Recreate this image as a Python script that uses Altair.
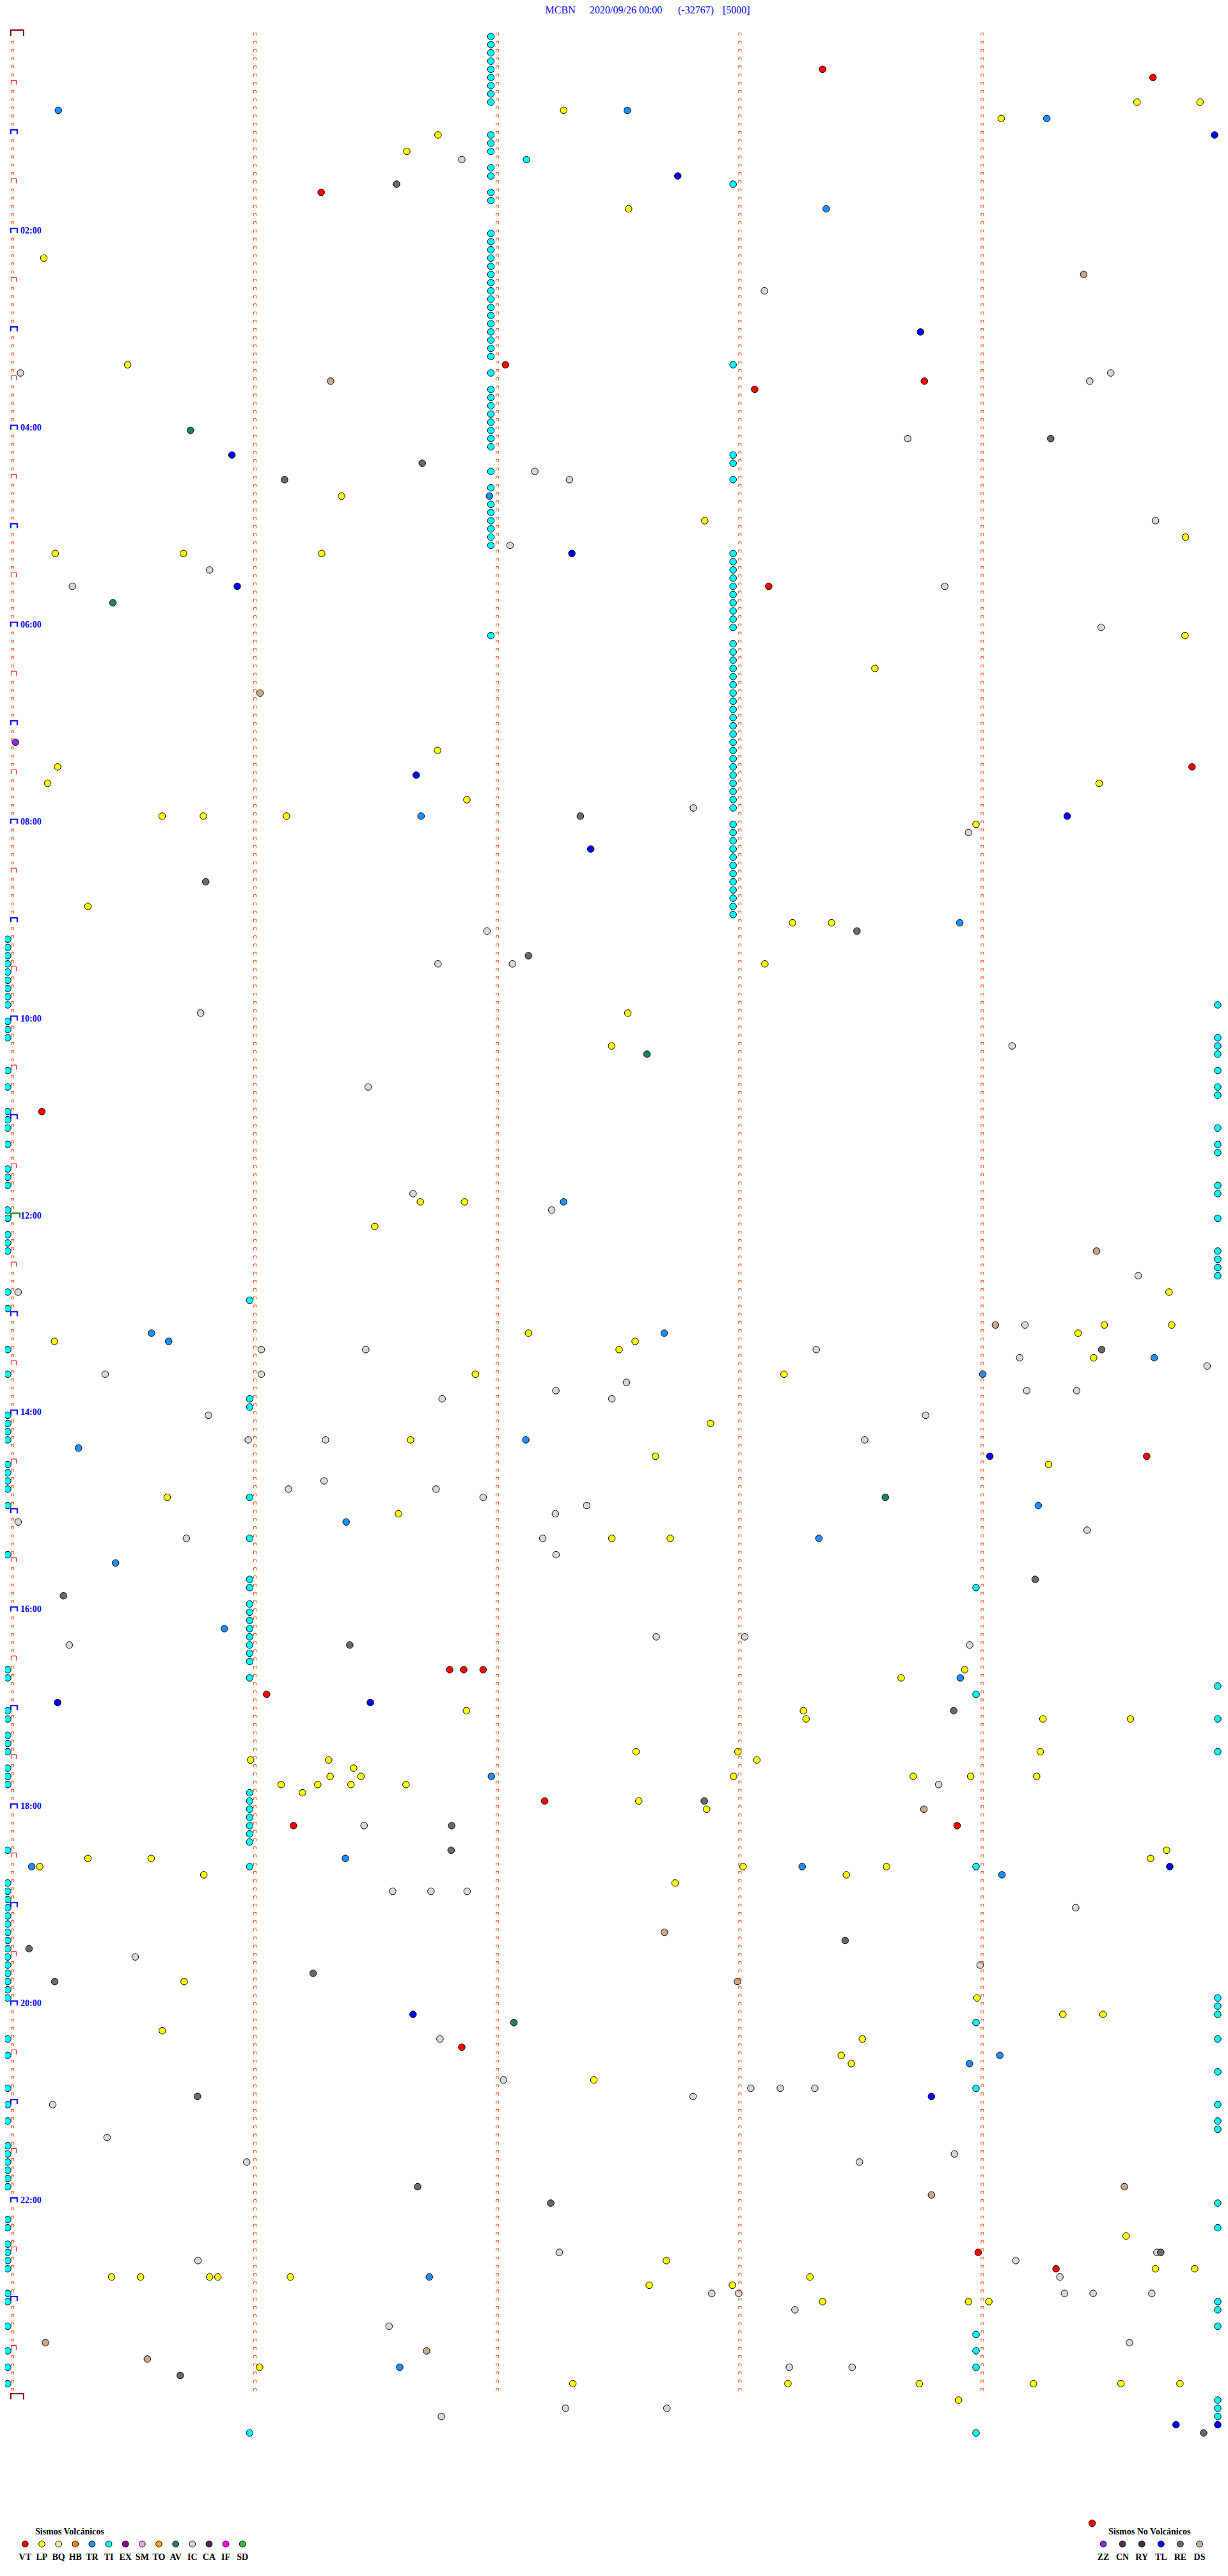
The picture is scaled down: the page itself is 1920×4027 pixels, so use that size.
import altair as alt
import pandas as pd

# ---------------- event data: row = 5-minute line index from 00:00, min = minute within line
VT_row = [4, 5, 19, 40, 42, 43, 67, 89, 131, 173, 199, 199, 199, 202, 215, 218, 218, 245, 270, 272, 303]
VT_min = [3.341, 4.704, 1.273, 2.033, 3.761, 3.061, 3.119, 4.865, 0.121, 4.678, 1.803, 1.861, 1.941, 1.048, 2.195, 1.159, 3.896, 1.853, 3.983, 4.304, 4.453]

LP_row = [8, 8, 9, 10, 12, 14, 21, 27, 40, 56, 59, 61, 63, 63, 63, 73, 77, 87, 89, 91, 91, 93, 95, 95, 95, 96,
          106, 108, 108, 113, 119, 123, 142, 142, 145, 153, 157, 157, 158, 158, 159, 159, 160, 161, 163, 163, 169, 171,
          173, 174, 178, 180, 183, 183, 199, 200,
          204, 204, 205, 205, 205, 209, 209, 209, 210, 210, 210, 211, 212, 212, 212, 212, 212, 212, 213, 213, 213, 213,
          214, 215, 216, 221, 222, 222, 222, 223, 223, 223, 224, 224, 225, 237, 239, 241, 241, 243, 244, 246, 247, 249,
          268, 271, 272, 272, 273, 273, 273, 273, 273, 273, 274, 274, 276, 276, 276, 284, 286, 286, 286, 286, 286, 286, 288]
LP_min = [4.638, 4.898, 2.273, 4.078, 1.755, 1.626, 2.541, 0.129, 0.475, 1.357, 2.855, 4.838, 0.176, 0.705, 1.275, 4.836, 3.557, 1.753, 0.186, 0.145, 4.482, 1.874, 0.617, 0.787, 1.130, 3.974,
          0.311, 3.217, 3.378, 3.103, 2.538, 2.471, 1.682, 1.864, 1.494, 4.770, 4.503, 4.781, 4.395, 2.128, 2.568, 0.173, 2.502, 4.459, 3.182, 1.909, 2.879, 1.642,
          2.652, 4.273, 0.638, 1.592, 2.713, 2.472, 3.927, 3.665,
          1.872, 3.262, 3.273, 4.250, 4.611, 2.572, 2.992, 4.239, 0.982, 1.304, 3.070, 1.407, 1.310, 1.437, 2.974, 3.715, 3.952, 4.224, 1.108, 1.259, 1.396, 1.623,
          1.196, 2.583, 2.863, 4.760, 0.311, 0.572, 4.694, 0.112, 3.013, 3.605, 0.789, 3.439, 2.733, 0.708, 3.978, 4.332, 4.498, 0.618, 3.505, 3.418, 3.460, 2.398,
          4.593, 2.697, 4.714, 4.876, 0.409, 0.528, 0.813, 0.847, 1.146, 3.289, 2.626, 2.969, 3.341, 3.943, 4.027, 1.019, 2.311, 3.198, 3.740, 4.211, 4.572, 4.815, 3.902]

IC_row = [15, 31, 41, 41, 42, 49, 53, 54, 59, 62, 65, 67, 67, 72, 94, 97,
          109, 113, 113, 119, 123, 128, 141, 143, 151, 153, 157, 160, 160, 160, 161, 162, 163, 163, 164, 165, 165, 165, 166, 166,
          168, 168, 171, 171, 171, 176, 177, 177, 178, 179, 180, 181, 182, 183, 183, 185, 195, 195, 196, 196,
          213, 218, 226, 226, 226, 228, 234, 235, 244, 249, 250, 250, 250, 251, 252, 256, 258, 259, 259, 270, 270, 271, 271,
          273, 275, 275, 275, 275, 275, 277, 279, 281, 284, 284, 289, 289, 290]
IC_min = [1.853, 3.101, 0.033, 4.530, 4.443, 3.692, 2.154, 2.297, 4.714, 2.052, 0.813, 0.247, 3.845, 4.490, 2.808, 3.943,
          1.957, 1.755, 2.062, 0.776, 4.123, 1.467, 1.652, 2.224, 4.643, 0.023, 4.176, 1.026, 1.457, 3.315, 4.154, 4.927, 0.382, 1.026, 2.532, 2.241, 4.183, 4.389, 2.472, 1.772,
          0.808, 3.766, 0.972, 1.291, 3.515, 1.285, 1.138, 1.747, 1.941, 2.368, 2.239, 0.023, 4.432, 0.717, 2.187, 2.242, 2.655, 3.020, 0.234, 3.948,
          3.820, 1.450, 1.568, 1.726, 1.875, 4.385, 0.506, 3.991, 1.763, 2.025, 3.045, 3.167, 3.309, 2.807, 0.166, 0.390, 3.885, 0.966, 3.493, 2.255, 4.720, 0.765, 4.138,
          4.320, 2.884, 2.995, 4.339, 4.457, 4.699, 3.227, 1.553, 4.607, 3.204, 3.463, 2.281, 2.699, 1.769]

RE_row = [18, 49, 52, 54, 95, 103, 109, 112, 160, 188, 190, 196, 204, 215, 218, 221, 232, 233, 236, 237, 251, 262, 264, 270, 285, 292]
RE_min = [1.584, 4.282, 1.690, 1.122, 2.342, 0.797, 3.483, 2.128, 4.492, 4.218, 0.210, 1.391, 3.882, 2.853, 1.811, 1.809, 3.434, 0.068, 1.240, 0.174, 0.763, 1.671, 2.220, 4.736, 0.692, 4.913]

TR_row = [9, 9, 10, 21, 56, 95, 108, 142, 158, 158, 159, 161, 163, 171, 172, 179, 181, 183, 186, 194, 200,
          212, 222, 223, 223, 224, 246, 247, 273, 284]
TR_min = [0.189, 2.536, 4.266, 3.356, 1.967, 1.685, 3.907, 2.273, 0.573, 2.688, 0.644, 4.709, 4.002, 2.117, 0.272, 4.231, 1.376, 3.326, 0.425, 0.874, 3.909,
          1.975, 1.373, 0.079, 3.257, 4.081, 4.072, 3.947, 1.719, 1.597]

TL_row = [12, 17, 36, 51, 63, 67, 90, 95, 99, 173, 203, 203, 223, 241, 251, 291, 291]
TL_min = [4.958, 2.744, 3.745, 0.905, 2.307, 0.927, 1.665, 4.350, 2.385, 4.031, 0.186, 1.476, 4.773, 1.652, 3.790, 4.799, 4.971]

AV_row = [48, 69, 124, 178, 242]
AV_min = [0.734, 0.414, 2.617, 3.600, 2.068]

DS_row = [29, 42, 80, 148, 157, 216, 231, 237, 262, 263, 281, 282, 283]
DS_min = [4.418, 1.312, 1.021, 4.471, 4.054, 3.759, 2.689, 2.990, 4.586, 3.790, 0.136, 1.708, 0.556]

ZZ_row = [86]
ZZ_min = [0.012]

# tremor (TI) events come in columns: minute within line -> rows
TI_A_min = 1.973
TI_A_rows = [0, 1, 2, 3, 4, 5, 6, 7, 8, 12, 13, 14, 16, 17, 19, 20, 24, 25, 26, 27, 28, 29, 30, 31, 32, 33, 34, 35,
             36, 37, 38, 39, 41, 43, 44, 45, 46, 47, 48, 49, 50, 53, 55, 57, 58, 59, 60, 61, 62, 73]
TI_X_min = 2.120
TI_X_rows = [15]
TI_B_min = 2.972
TI_B_rows = [18, 40, 51, 52, 54, 63, 64, 65, 66, 67, 68, 69, 70, 71, 72, 74, 75, 76, 77, 78, 79, 80, 81, 82, 83, 84,
             85, 86, 87, 88, 89, 90, 91, 92, 93, 94, 96, 97, 98, 99, 100, 101, 102, 103, 104, 105, 106, 107]
TI_L_min = -0.020
TI_L_rows = [110, 111, 112, 113, 114, 115, 116, 117, 118, 120, 121, 122, 126, 128, 131, 132, 133, 135, 138, 139, 140,
             143, 144, 146, 147, 148, 153, 155, 160, 163, 168, 169, 170, 171, 174, 175, 176, 177, 179, 185, 199, 200,
             204, 205, 207, 208, 209, 211, 212, 213, 221, 225, 226, 227, 228, 229, 230, 231, 232, 233, 234, 235, 236,
             237, 238, 239, 244, 246, 250, 252, 254, 257, 258, 259, 260, 261, 262, 266, 267, 269, 270, 271, 272, 275,
             276, 279, 282, 284, 286]
TI_C_min = 0.978
TI_C_rows = [154, 166, 167, 178, 183, 188, 189, 191, 192, 193, 194, 195, 196, 197, 198, 200, 214, 215, 216, 217, 218,
             219, 220, 223, 292]
TI_D_min = 3.974
TI_D_rows = [189, 202, 223, 242, 250, 280, 282, 284, 292]
TI_R_min = 4.971
TI_R_rows = [118, 122, 123, 124, 126, 128, 129, 133, 135, 136, 140, 141, 144, 148, 149, 150, 151, 201, 205, 209, 239,
             240, 241, 244, 248, 252, 254, 255, 264, 267, 276, 277, 279, 288, 289, 290]

TYPES = ["VT", "LP", "BQ", "HB", "TR", "TI", "EX", "SM", "TO", "AV", "IC", "CA", "IF", "SD",
         "ZZ", "CN", "RY", "TL", "RE", "DS"]
COLORS = ["#FF0000", "#FFFF00", "#EEE8AA", "#FF8000", "#1E90FF", "#00FFFF", "#8B008B", "#EEAAEE", "#FFA500",
          "#1E8060", "#D8D8D8", "#4A2A4A", "#FF00FF", "#30C030",
          "#8A2BE2", "#4A3050", "#4A2A4A", "#0000FF", "#6A6A6A", "#C8AA88"]
VOLC = TYPES[:14]
NOVOLC = TYPES[14:]

HOUR_ROWS = [24, 48, 72, 96, 120, 144, 168, 192, 216, 240, 264]
HOUR_TEXT = ["02:00", "04:00", "06:00", "08:00", "10:00", "12:00", "14:00", "16:00", "18:00", "20:00", "22:00"]

TITLE_PARTS = ["MCBN", "2020/09/26 00:00", "(-32767)", "[5000]"]

# ---------------- build tables
ev = []
for t, rows, mins in [("VT", VT_row, VT_min), ("LP", LP_row, LP_min), ("IC", IC_row, IC_min),
                      ("RE", RE_row, RE_min), ("TR", TR_row, TR_min), ("TL", TL_row, TL_min),
                      ("AV", AV_row, AV_min), ("DS", DS_row, DS_min), ("ZZ", ZZ_row, ZZ_min)]:
    for r, m in zip(rows, mins):
        ev.append({"row": r, "min": m, "type": t})
for m, rows in [(TI_A_min, TI_A_rows), (TI_X_min, TI_X_rows), (TI_B_min, TI_B_rows), (TI_L_min, TI_L_rows),
                (TI_C_min, TI_C_rows), (TI_D_min, TI_D_rows), (TI_R_min, TI_R_rows)]:
    for r in rows:
        ev.append({"row": r, "min": m, "type": "TI"})
events = pd.DataFrame(ev)
# TI drawn first so the other events sit on top
events["order"] = (events["type"] != "TI").astype(int)

N_ROWS = 288
marks = []
for k in range(N_ROWS + 1):
    for c in range(5):
        if c > 0 and k == N_ROWS:
            continue
        if c == 0 and k in (0, N_ROWS):
            kind = "day"
        elif c == 0 and k == 144:
            kind = "noon"
        elif c == 0 and k % 12 == 0:
            kind = "hour"
        elif c == 0 and k % 12 == 6:
            kind = "half"
        else:
            kind = "tick"
        marks.append({"row": k, "min": c, "kind": kind})
marks = pd.DataFrame(marks)

W, H = 1904, 4011
xs = alt.Scale(domain=[-0.03055, 4.9922], range=[0, W], nice=False, zero=False)
ys = alt.Scale(domain=[-3.8192, 308.81], range=[0, H], nice=False, zero=False)
X = alt.X("min:Q", scale=xs, axis=None)
Y = alt.Y("row:Q", scale=ys, axis=None)


def glyph(kind, path, size, color, sw, dx, dy):
    return alt.Chart(marks).transform_filter(alt.datum.kind == kind).mark_point(
        shape=path, size=size, filled=False, color=color, strokeWidth=sw, opacity=1,
        xOffset=dx, yOffset=dy
    ).encode(x=X, y=Y)


tick = glyph("tick", "M-1,1L-1,-1L1,-1L1,1", 16, "#FF4500", 1, 0, -3.5)
half = glyph("half", "M-1,0.875L-1,-0.875L1,-0.875L1,0.875", 64, "#FF0000", 1, 1.8, -5)
hour = glyph("hour", "M-1,0.7L-1,-0.7L1,-0.7L1,0.7", 100, "#0000FF", 2, 2.3, -4.5)
noon = glyph("noon", "M-1,0.5L-1,-0.5L1,-0.5L1,0.5", 196, "#008000", 2, 4.5, -4.5)
day = glyph("day", "M-1,0.45L-1,-0.45L1,-0.45L1,0.45", 400, "#8B0000", 2, 7.3, -5.5)

circles = alt.Chart(events).mark_point(
    shape="circle", filled=True, size=110, stroke="black", strokeWidth=1, opacity=1
).encode(
    x=X, y=Y,
    fill=alt.Fill("type:N", scale=alt.Scale(domain=TYPES, range=COLORS), legend=None),
    order=alt.Order("order:Q"),
)

hours = alt.Chart(pd.DataFrame({"row": HOUR_ROWS, "label": HOUR_TEXT})).mark_text(
    font="Liberation Serif", fontWeight="bold", fontSize=14, color="#0000FF",
    align="left", baseline="alphabetic"
).encode(x=alt.value(24), y=Y, text="label:N")

title_df = pd.DataFrame({"text": TITLE_PARTS, "px": [844.6, 914, 1052, 1122]})
title = alt.Chart(title_df).mark_text(
    font="Liberation Serif", fontSize=16, color="#0000FF", align="left", baseline="top"
).encode(x=alt.X("px:Q", scale=None), y=alt.value(0), text="text:N")

# legends
lv = pd.DataFrame({"type": VOLC, "px": [31.3 + 26.15 * i for i in range(len(VOLC))]})
ln = pd.DataFrame({"type": NOVOLC, "px": [1717 + 30.1 * i for i in range(len(NOVOLC))]})
leg_df = pd.concat([lv, ln], ignore_index=True)
leg_dots = alt.Chart(leg_df).mark_point(
    shape="circle", filled=True, size=95, stroke="black", strokeWidth=1, opacity=1
).encode(
    x=alt.X("px:Q", scale=None), y=alt.value(3969),
    fill=alt.Fill("type:N", scale=alt.Scale(domain=TYPES, range=COLORS), legend=None),
)
leg_text = alt.Chart(leg_df).mark_text(
    font="Liberation Serif", fontWeight="bold", fontSize=14, color="black", align="center", baseline="alphabetic"
).encode(x=alt.X("px:Q", scale=None), y=alt.value(3994), text="type:N")
leg_heads = alt.Chart(pd.DataFrame({"text": ["Sismos Volcánicos", "Sismos No Volcánicos"], "px": [47, 1725]})).mark_text(
    font="Liberation Serif", fontWeight="bold", fontSize=14, color="black", align="left", baseline="alphabetic"
).encode(x=alt.X("px:Q", scale=None), y=alt.value(3954), text="text:N")

chart = alt.layer(
    circles, tick, half, hour, noon, day, hours, title, leg_dots, leg_text, leg_heads
).properties(
    width=W, height=H, padding=0, autosize=alt.AutoSizeParams(type="none")
).configure_view(stroke=None)

chart.save("out.html", embed_options={"renderer": "svg", "actions": False})
